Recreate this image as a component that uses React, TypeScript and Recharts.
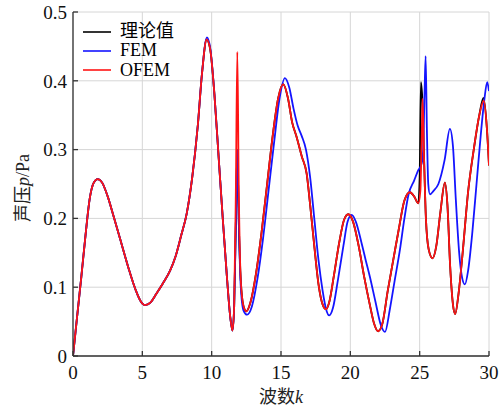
import React from "react";
import {
  LineChart,
  Line,
  XAxis,
  YAxis,
  CartesianGrid,
  Legend,
} from "recharts";

// wavenumber k / sound pressure p
const exactK = [0, 0.3, 0.6, 0.9, 1.2, 1.5, 1.78, 2.1, 2.5, 2.9, 3.4, 4.0, 4.5, 4.9, 5.2, 5.6, 6.0, 6.5, 7.0, 7.4, 7.8, 8.2, 8.6, 9.0, 9.3, 9.64, 9.9, 10.2, 10.5, 10.8, 11.1, 11.35, 11.5, 11.62, 11.75, 11.85, 11.95, 12.1, 12.3, 12.5, 12.8, 13.2, 13.6, 14.0, 14.4, 14.8, 15.16, 15.5, 15.8, 16.1, 16.5, 16.85, 17.1, 17.4, 17.7, 18.0, 18.24, 18.5, 18.8, 19.2, 19.55, 19.85, 20.2, 20.6, 21.0, 21.4, 21.7, 22.0, 22.3, 22.7, 23.1, 23.5, 23.9, 24.3, 24.6, 24.9, 25.0, 25.09, 25.2, 25.3, 25.45, 25.65, 25.93, 26.2, 26.5, 26.82, 27.0, 27.2, 27.4, 27.56, 27.8, 28.1, 28.5, 28.9, 29.3, 29.6, 29.85, 30];
const exactP = [0, 0.058, 0.115, 0.175, 0.228, 0.252, 0.257, 0.252, 0.232, 0.205, 0.17, 0.128, 0.097, 0.079, 0.074, 0.078, 0.09, 0.106, 0.124, 0.145, 0.175, 0.207, 0.26, 0.335, 0.41, 0.46, 0.445, 0.38, 0.29, 0.2, 0.115, 0.055, 0.037, 0.07, 0.2, 0.3, 0.2, 0.11, 0.072, 0.065, 0.078, 0.12, 0.18, 0.25, 0.32, 0.375, 0.395, 0.375, 0.34, 0.32, 0.29, 0.265, 0.22, 0.16, 0.105, 0.075, 0.068, 0.08, 0.115, 0.165, 0.198, 0.206, 0.195, 0.16, 0.115, 0.075, 0.048, 0.036, 0.046, 0.095, 0.14, 0.185, 0.226, 0.238, 0.232, 0.222, 0.26, 0.398, 0.37, 0.3, 0.2, 0.155, 0.142, 0.16, 0.21, 0.252, 0.22, 0.13, 0.075, 0.061, 0.09, 0.15, 0.24, 0.3, 0.35, 0.375, 0.33, 0.277];

const femK = [0, 0.3, 0.6, 0.9, 1.2, 1.5, 1.78, 2.1, 2.5, 2.9, 3.4, 4.0, 4.5, 4.9, 5.2, 5.6, 6.0, 6.5, 7.0, 7.4, 7.8, 8.2, 8.6, 9.0, 9.3, 9.66, 9.9, 10.2, 10.5, 10.8, 11.1, 11.35, 11.5, 11.62, 11.75, 11.85, 11.95, 12.1, 12.3, 12.55, 12.9, 13.3, 13.7, 14.1, 14.5, 14.9, 15.28, 15.6, 15.9, 16.2, 16.49, 16.8, 17.1, 17.4, 17.7, 18.0, 18.25, 18.48, 18.75, 19.1, 19.5, 19.8, 20.09, 20.4, 20.8, 21.1, 21.4, 21.8, 22.2, 22.5, 22.85, 23.2, 23.58, 23.9, 24.2, 24.6, 24.9, 25.15, 25.25, 25.35, 25.43, 25.52, 25.62, 25.74, 26.0, 26.35, 26.8, 27.18, 27.4, 27.6, 27.85, 28.05, 28.26, 28.5, 28.8, 29.1, 29.4, 29.65, 29.87, 30];
const femP = [0, 0.058, 0.115, 0.175, 0.228, 0.252, 0.257, 0.252, 0.232, 0.205, 0.17, 0.128, 0.097, 0.079, 0.074, 0.078, 0.09, 0.106, 0.124, 0.145, 0.175, 0.207, 0.26, 0.335, 0.41, 0.463, 0.447, 0.38, 0.29, 0.2, 0.115, 0.055, 0.037, 0.07, 0.2, 0.3, 0.2, 0.1, 0.066, 0.06, 0.072, 0.112, 0.17, 0.24, 0.31, 0.375, 0.404, 0.39, 0.36, 0.335, 0.32, 0.3, 0.26, 0.2, 0.14, 0.095, 0.068, 0.059, 0.07, 0.11, 0.16, 0.195, 0.205, 0.195, 0.165, 0.14, 0.116, 0.08, 0.045, 0.035, 0.068, 0.11, 0.155, 0.2, 0.235, 0.255, 0.27, 0.28, 0.3, 0.38, 0.436, 0.33, 0.25, 0.235, 0.24, 0.25, 0.285, 0.33, 0.305, 0.23, 0.15, 0.115, 0.104, 0.125, 0.18, 0.25, 0.32, 0.37, 0.398, 0.385];

const ofemK = [0, 0.3, 0.6, 0.9, 1.2, 1.5, 1.78, 2.1, 2.5, 2.9, 3.4, 4.0, 4.5, 4.9, 5.2, 5.6, 6.0, 6.5, 7.0, 7.4, 7.8, 8.2, 8.6, 9.0, 9.3, 9.64, 9.9, 10.2, 10.5, 10.8, 11.1, 11.35, 11.5, 11.62, 11.75, 11.85, 11.95, 12.1, 12.3, 12.5, 12.8, 13.2, 13.6, 14.0, 14.4, 14.8, 15.16, 15.5, 15.8, 16.1, 16.5, 16.85, 17.1, 17.4, 17.7, 18.0, 18.24, 18.5, 18.8, 19.2, 19.55, 19.85, 20.2, 20.6, 21.0, 21.4, 21.7, 22.0, 22.3, 22.7, 23.1, 23.5, 23.9, 24.3, 24.6, 24.9, 25.05, 25.15, 25.21, 25.3, 25.45, 25.65, 25.93, 26.2, 26.5, 26.82, 27.0, 27.2, 27.4, 27.56, 27.8, 28.1, 28.5, 28.9, 29.3, 29.63, 29.85, 30];
const ofemP = [0, 0.058, 0.115, 0.175, 0.228, 0.252, 0.257, 0.252, 0.232, 0.205, 0.17, 0.128, 0.097, 0.079, 0.074, 0.078, 0.09, 0.106, 0.124, 0.145, 0.175, 0.207, 0.26, 0.335, 0.41, 0.46, 0.445, 0.38, 0.29, 0.2, 0.115, 0.055, 0.037, 0.07, 0.25, 0.442, 0.25, 0.11, 0.072, 0.065, 0.078, 0.12, 0.18, 0.25, 0.32, 0.375, 0.395, 0.375, 0.34, 0.32, 0.29, 0.265, 0.22, 0.16, 0.105, 0.075, 0.068, 0.08, 0.115, 0.165, 0.198, 0.206, 0.195, 0.16, 0.115, 0.075, 0.048, 0.036, 0.046, 0.095, 0.14, 0.185, 0.226, 0.238, 0.232, 0.222, 0.24, 0.32, 0.374, 0.3, 0.2, 0.155, 0.142, 0.16, 0.21, 0.252, 0.22, 0.13, 0.075, 0.061, 0.09, 0.15, 0.24, 0.3, 0.35, 0.371, 0.33, 0.277];

const xTicks = [0, 5, 10, 15, 20, 25, 30];
const yTicks = [0, 0.1, 0.2, 0.3, 0.4, 0.5];

const seriesNames = ["理论值", "FEM", "OFEM"];
const seriesColors = ["#000000", "#1414ff", "#ff1414"];

const FONT = "Liberation Serif, DejaVu Serif, Noto Sans CJK SC, serif";
const AXIS = "#333333";

const toRows = (ks: number[], ps: number[]) => ks.map((k, i) => ({ k, p: ps[i] }));

function LegendBox() {
  return (
    <div style={{ fontFamily: FONT, fontSize: 18, lineHeight: "19.3px", color: "#000" }}>
      {seriesNames.map((name, i) => (
        <div key={name} style={{ display: "flex", alignItems: "center", height: 19.3 }}>
          <svg width={28} height={4} style={{ marginRight: 9 }}>
            <line x1={0} y1={2} x2={28} y2={2} stroke={seriesColors[i]} strokeWidth={1.6} />
          </svg>
          <span>{name}</span>
        </div>
      ))}
    </div>
  );
}

function AxisTitles() {
  return (
    <g style={{ fontFamily: FONT, fontSize: 18 }} fill="#222">
      <text x={23} y={188} transform="rotate(-90 23 188)" textAnchor="middle" dominantBaseline="central">
        声压<tspan fontStyle="italic">p</tspan>/Pa
      </text>
      <text x={281} y={397} textAnchor="middle" dominantBaseline="central">
        波数<tspan fontStyle="italic">k</tspan>
      </text>
    </g>
  );
}

export default function App() {
  const tickStyle = { fill: "#111", fontSize: 19, style: { fontFamily: FONT } };
  return (
    <div style={{ position: "absolute", left: 0, top: 0, fontFamily: FONT }}>
      <LineChart width={499} height={408} margin={{ top: 12, right: 10, bottom: 0, left: 0 }}>
        <CartesianGrid stroke="#d6d6d6" strokeWidth={1} />
        <XAxis
          dataKey="k"
          type="number"
          domain={[0, 30]}
          ticks={xTicks}
          height={52}
          tick={tickStyle}
          tickSize={-5}
          tickMargin={15}
          stroke={AXIS}
          strokeWidth={1.3}
          allowDataOverflow
        />
        <XAxis
          xAxisId="top"
          orientation="top"
          dataKey="k"
          type="number"
          domain={[0, 30]}
          ticks={xTicks}
          height={0}
          tickSize={-5}
          tickFormatter={() => ""}
          stroke={AXIS}
          strokeWidth={1.3}
        />
        <YAxis
          type="number"
          domain={[0, 0.5]}
          ticks={yTicks}
          width={73}
          tick={tickStyle}
          tickSize={-5}
          tickMargin={11}
          tickFormatter={(v) => `${v}`}
          stroke={AXIS}
          strokeWidth={1.3}
          allowDataOverflow
        />
        <YAxis
          yAxisId="right"
          orientation="right"
          type="number"
          domain={[0, 0.5]}
          ticks={yTicks}
          width={0}
          tickSize={-5}
          tickFormatter={() => ""}
          stroke={AXIS}
          strokeWidth={1.3}
        />
        <Legend
          layout="horizontal"
          verticalAlign="middle"
          align="center"
          content={<LegendBox />}
          wrapperStyle={{ left: 83, top: 22, width: 120, height: 60 }}
        />
        <Line data={toRows(exactK, exactP)} dataKey="p" name={seriesNames[0]} type="monotone" stroke={seriesColors[0]} strokeWidth={1.8} dot={false} isAnimationActive={false} />
        <Line data={toRows(femK, femP)} dataKey="p" name={seriesNames[1]} type="monotone" stroke={seriesColors[1]} strokeWidth={1.8} dot={false} isAnimationActive={false} />
        <Line data={toRows(ofemK, ofemP)} dataKey="p" name={seriesNames[2]} type="monotone" stroke={seriesColors[2]} strokeWidth={1.8} dot={false} isAnimationActive={false} />
        <AxisTitles />
      </LineChart>
    </div>
  );
}
